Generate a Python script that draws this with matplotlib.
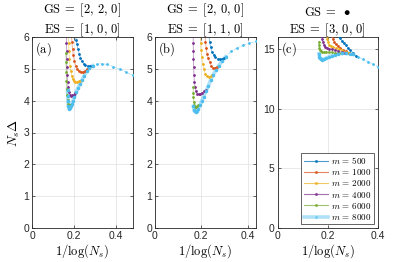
import matplotlib
matplotlib.use("Agg")
import matplotlib.pyplot as plt
from matplotlib.lines import Line2D

plt.rcParams['mathtext.fontset'] = 'cm'
plt.rcParams['font.family'] = ['Liberation Sans', 'DejaVu Sans']

# MATLAB default colours, one per bond dimension m
m_vals = [500, 1000, 2000, 4000, 6000, 8000]
colors = ['#0072BD', '#D95319', '#EDB120', '#7E2F8E', '#77AC30', '#4DBEEE']

# ---------- panel (a) ----------
a500_x = [0.208, 0.211, 0.215, 0.220, 0.226, 0.232, 0.239, 0.247, 0.256, 0.266, 0.278, 0.29]
a500_y = [6.05, 5.92, 5.78, 5.62, 5.47, 5.34, 5.24, 5.16, 5.12, 5.09, 5.08, 5.1]
a1000_x = [0.189, 0.191, 0.194, 0.198, 0.203, 0.209, 0.216, 0.224, 0.233, 0.243, 0.254, 0.265, 0.275]
a1000_y = [6.05, 5.85, 5.62, 5.42, 5.24, 5.10, 5.00, 4.93, 4.90, 4.91, 4.94, 4.98, 5.03]
a2000_x = [0.174, 0.175, 0.177, 0.179, 0.182, 0.186, 0.190, 0.195, 0.201, 0.208, 0.215, 0.223, 0.232, 0.24]
a2000_y = [6.05, 5.8, 5.55, 5.32, 5.1, 4.92, 4.78, 4.68, 4.62, 4.60, 4.60, 4.61, 4.62, 4.65]
a4000_x = [0.165, 0.165, 0.166, 0.166, 0.167, 0.168, 0.170, 0.173, 0.177, 0.182, 0.187, 0.193, 0.200, 0.208]
a4000_y = [6.05, 5.8, 5.55, 5.3, 5.05, 4.82, 4.6, 4.42, 4.28, 4.19, 4.16, 4.17, 4.19, 4.24]
a6000_x = [0.162, 0.163, 0.164, 0.165, 0.166, 0.168, 0.170, 0.173, 0.176, 0.180, 0.185, 0.19]
a6000_y = [5.5, 5.2, 4.9, 4.62, 4.38, 4.18, 4.02, 3.9, 3.85, 3.85, 3.87, 3.9]
a8000_x = [0.170, 0.171, 0.172, 0.174, 0.176, 0.178, 0.181, 0.185, 0.190, 0.196, 0.203, 0.211,
           0.220, 0.229, 0.239, 0.250, 0.262, 0.275, 0.29]
a8000_y = [4.35, 4.15, 3.98, 3.84, 3.77, 3.75, 3.77, 3.82, 3.9, 4.0, 4.12, 4.26,
           4.4, 4.52, 4.65, 4.79, 4.92, 5.03, 5.1]
atail_x = [0.29, 0.31, 0.335, 0.36, 0.39, 0.42, 0.45, 0.481]
atail_y = [5.1, 5.14, 5.16, 5.14, 5.07, 4.99, 4.9, 4.8]

# ---------- panel (b) ----------
b500_x = [0.233, 0.236, 0.240, 0.246, 0.253, 0.261, 0.270, 0.280, 0.290, 0.300, 0.305]
b500_y = [6.05, 5.85, 5.68, 5.54, 5.44, 5.37, 5.32, 5.30, 5.31, 5.35, 5.38]
b1000_x = [0.216, 0.218, 0.221, 0.225, 0.230, 0.236, 0.243, 0.251, 0.259, 0.268, 0.277]
b1000_y = [6.05, 5.85, 5.65, 5.48, 5.33, 5.2, 5.1, 5.04, 5.03, 5.05, 5.1]
b2000_x = [0.196, 0.197, 0.199, 0.202, 0.206, 0.211, 0.217, 0.224, 0.232, 0.24, 0.248]
b2000_y = [6.05, 5.8, 5.58, 5.36, 5.16, 4.98, 4.85, 4.77, 4.75, 4.76, 4.8]
b4000_x = [0.165, 0.165, 0.166, 0.166, 0.167, 0.168, 0.170, 0.173, 0.177, 0.182, 0.188, 0.195, 0.203, 0.212, 0.22]
b4000_y = [6.05, 5.8, 5.55, 5.3, 5.05, 4.82, 4.6, 4.42, 4.29, 4.22, 4.2, 4.21, 4.25, 4.29, 4.32]
b6000_x = [0.165, 0.165, 0.166, 0.167, 0.169, 0.172, 0.176, 0.181, 0.187, 0.193]
b6000_y = [4.42, 4.25, 4.1, 3.97, 3.87, 3.81, 3.8, 3.82, 3.85, 3.87]
b8000_x = [0.166, 0.168, 0.171, 0.175, 0.180, 0.186, 0.193, 0.201, 0.210, 0.220, 0.230,
           0.240, 0.250, 0.262, 0.275, 0.29, 0.305]
b8000_y = [3.82, 3.72, 3.66, 3.64, 3.67, 3.74, 3.85, 3.98, 4.13, 4.3, 4.46,
           4.64, 4.8, 4.95, 5.1, 5.25, 5.38]
btail_x = [0.305, 0.33, 0.355, 0.38, 0.405, 0.434]
btail_y = [5.38, 5.55, 5.66, 5.74, 5.8, 5.86]

# ---------- panel (c) ----------
c500_x = [0.245, 0.25, 0.256, 0.263, 0.271, 0.28, 0.29, 0.30, 0.312]
c500_y = [16.1, 15.9, 15.7, 15.5, 15.3, 15.1, 14.9, 14.7, 14.45]
c1000_x = [0.218, 0.221, 0.226, 0.232, 0.24, 0.25, 0.261, 0.273, 0.286, 0.298]
c1000_y = [16.1, 15.85, 15.6, 15.4, 15.22, 15.07, 14.93, 14.8, 14.67, 14.56]
c2000_x = [0.196, 0.198, 0.201, 0.206, 0.213, 0.222, 0.233, 0.245, 0.258, 0.272, 0.285]
c2000_y = [16.1, 15.8, 15.55, 15.35, 15.22, 15.13, 15.06, 14.98, 14.88, 14.76, 14.64]
c4000_x = [0.178, 0.179, 0.181, 0.184, 0.189, 0.196, 0.205, 0.216, 0.228, 0.24, 0.255, 0.268]
c4000_y = [16.1, 15.8, 15.55, 15.35, 15.2, 15.1, 15.03, 14.98, 14.92, 14.85, 14.74, 14.66]
c6000_x = [0.165, 0.166, 0.167, 0.169, 0.172, 0.177, 0.184, 0.193, 0.204, 0.217, 0.23, 0.245]
c6000_y = [15.6, 15.35, 15.12, 14.95, 14.83, 14.76, 14.74, 14.74, 14.74, 14.72, 14.68, 14.62]
c8000_x = [0.165, 0.167, 0.170, 0.174, 0.179, 0.185, 0.193, 0.203, 0.215, 0.228, 0.242,
           0.257, 0.272, 0.287, 0.30]
c8000_y = [14.6, 14.35, 14.2, 14.12, 14.1, 14.14, 14.22, 14.32, 14.43, 14.52, 14.58,
           14.62, 14.63, 14.6, 14.55]
ctail_x = [0.30, 0.32, 0.34, 0.36, 0.38, 0.40]
ctail_y = [14.55, 14.35, 14.13, 13.92, 13.72, 13.5]

panels = [
    dict(series=[(a500_x, a500_y), (a1000_x, a1000_y), (a2000_x, a2000_y),
                 (a4000_x, a4000_y), (a6000_x, a6000_y), (a8000_x, a8000_y)],
         tail=(atail_x, atail_y), xlim=0.481, ylim=6, yticks=[0, 1, 2, 3, 4, 5, 6],
         title='$\\mathrm{GS}\\;=\\;[2,\\,2,\\,0]$\n$\\mathrm{ES}\\;=\\;[1,\\,0,\\,0]$', tag='(a)'),
    dict(series=[(b500_x, b500_y), (b1000_x, b1000_y), (b2000_x, b2000_y),
                 (b4000_x, b4000_y), (b6000_x, b6000_y), (b8000_x, b8000_y)],
         tail=(btail_x, btail_y), xlim=0.434, ylim=6, yticks=[0, 1, 2, 3, 4, 5, 6],
         title='$\\mathrm{GS}\\;=\\;[2,\\,0,\\,0]$\n$\\mathrm{ES}\\;=\\;[1,\\,1,\\,0]$', tag='(b)'),
    dict(series=[(c500_x, c500_y), (c1000_x, c1000_y), (c2000_x, c2000_y),
                 (c4000_x, c4000_y), (c6000_x, c6000_y), (c8000_x, c8000_y)],
         tail=(ctail_x, ctail_y), xlim=0.4, ylim=16, yticks=[0, 5, 10, 15],
         title='$\\mathrm{GS}\\;=\\;\\bullet$\n$\\mathrm{ES}\\;=\\;[3,\\,0,\\,0]$', tag='(c)'),
]

fig = plt.figure(figsize=(3.99, 2.62), dpi=100)
lefts = [32, 155, 277.5]
ax_c = '0.15'

for i, p in enumerate(panels):
    ax = fig.add_axes([lefts[i] / 399, 34 / 262, 100.5 / 399, 191 / 262])
    for (x, y), m, c in zip(p['series'], m_vals, colors):
        if m == 8000:
            ax.plot(x, y, '-', color=c, lw=2.6, alpha=0.45, zorder=2)
            ax.plot(x, y, '.', color=c, ms=3, zorder=3)
        else:
            ax.plot(x, y, '-', color=c, lw=0.6, alpha=0.5, zorder=2)
            ax.plot(x, y, '.', color=c, ms=2, zorder=3)
    tx, ty = p['tail']
    ax.plot(tx, ty, '--', color=colors[5], lw=0.5, alpha=0.6, zorder=2)
    ax.plot(tx, ty, '.', color=colors[5], ms=2, zorder=3)

    ax.set_xlim(0, p['xlim'])
    ax.set_ylim(0, p['ylim'])
    ax.set_xticks([0, 0.2, 0.4])
    ax.set_xticklabels(['0', '0.2', '0.4'])
    ax.set_yticks(p['yticks'])
    ax.grid(True, color='0.88', lw=0.5)
    ax.set_axisbelow(True)
    ax.tick_params(direction='in', length=2.5, width=0.5, top=True, right=True,
                   labelsize=7.5, colors=ax_c, pad=2)
    for s in ax.spines.values():
        s.set_linewidth(0.6)
        s.set_color(ax_c)
    ax.set_title(p['title'], fontsize=9, pad=3, linespacing=1.15)
    ax.text(0.03, 0.935, '$\\mathrm{' + p['tag'] + '}$', transform=ax.transAxes,
            fontsize=9, va='center', ha='left')
    ax.set_xlabel('$1/\\log(N_s)$', fontsize=9, labelpad=1)
    if i == 0:
        ax.set_ylabel('$N_s\\Delta$', fontsize=9.5, labelpad=1)
    if i == 2:
        handles = []
        for m, c in zip(m_vals, colors):
            lw = 2.6 if m == 8000 else 0.8
            al = 0.45 if m == 8000 else 0.7
            handles.append(Line2D([], [], color=c, lw=lw, alpha=al, marker='.', ms=2.5,
                                  markerfacecolor=c, markeredgecolor=c,
                                  label='$m\\, = \\, %d$' % m))
        leg = ax.legend(handles=handles, loc='lower right', fontsize=6.5, fancybox=False,
                        framealpha=1, edgecolor=ax_c, handlelength=2.6, handletextpad=0.4,
                        labelspacing=0.12, borderpad=0.3, borderaxespad=0.4)
        leg.get_frame().set_linewidth(0.5)

fig.savefig('out.png', dpi=100)
